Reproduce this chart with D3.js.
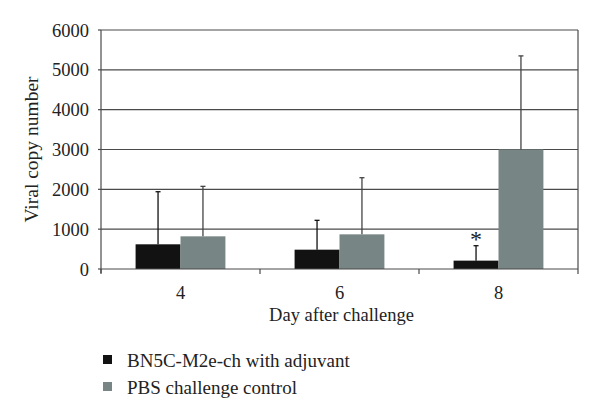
<!DOCTYPE html>
<html><head><meta charset="utf-8">
<script src="https://cdn.jsdelivr.net/npm/d3@7"></script>
<style>body{margin:0;background:#fff}svg{display:block}text{font-family:"Liberation Serif","DejaVu Serif",serif;fill:#222}</style>
</head><body>
<script>
const days = ["4", "6", "8"];
const seriesNames = ["BN5C-M2e-ch with adjuvant", "PBS challenge control"];
const adjuvantMean = [620, 485, 210];
const adjuvantErr = [1320, 737, 375];
const pbsMean = [820, 870, 3000];
const pbsErr = [1255, 1422, 2350];
const yTicks = [0, 1000, 2000, 3000, 4000, 5000, 6000];
const colors = ["#121212", "#788585"];
const significant = [false, false, true];

const W = 600, H = 417;
const m = {left: 101, right: 22, top: 30, bottom: 148};
const svg = d3.select("body").append("svg").attr("width", W).attr("height", H);
const x = d3.scaleBand().domain(days).range([m.left, W - m.right]).paddingInner(0).paddingOuter(0);
const xs = d3.scaleBand().domain([0, 1]).range([0, x.bandwidth()]).paddingInner(0).paddingOuter(0.77);
const y = d3.scaleLinear().domain([0, 6000]).range([H - m.bottom, m.top]);

// gridlines
svg.append("g").selectAll("line").data(yTicks.slice(1)).join("line")
  .attr("x1", m.left).attr("x2", W - m.right)
  .attr("y1", d => y(d)).attr("y2", d => y(d))
  .attr("stroke", "#4a4a4a").attr("stroke-width", 1.2);
// right border
svg.append("line").attr("x1", W - m.right).attr("x2", W - m.right)
  .attr("y1", y(6000)).attr("y2", y(0)).attr("stroke", "#4a4a4a").attr("stroke-width", 1.2);

const data = days.map((d, i) => [
  {day: d, s: 0, v: adjuvantMean[i], e: adjuvantErr[i]},
  {day: d, s: 1, v: pbsMean[i], e: pbsErr[i]}
]).flat();

svg.append("g").selectAll("rect").data(data).join("rect")
  .attr("x", d => x(d.day) + xs(d.s)).attr("width", xs.bandwidth())
  .attr("y", d => y(d.v)).attr("height", d => y(0) - y(d.v))
  .attr("fill", d => colors[d.s]);

const eb = svg.append("g").attr("stroke-width", 1.3);
data.forEach(d => {
  const cx = x(d.day) + xs(d.s) + xs.bandwidth() / 2;
  const col = d.s === 0 ? "#111" : "#444";
  eb.append("line").attr("x1", cx).attr("x2", cx).attr("y1", y(d.v)).attr("y2", y(d.v + d.e)).attr("stroke", col);
  eb.append("line").attr("x1", cx - 2.5).attr("x2", cx + 2.5).attr("y1", y(d.v + d.e)).attr("y2", y(d.v + d.e)).attr("stroke", col);
  if (d.s === 0 && significant[days.indexOf(d.day)]) {
    svg.append("text").attr("x", cx).attr("y", y(d.v + d.e) + 1.5).attr("text-anchor", "middle")
      .style("font-size", "24px").text("*");
  }
});

// x axis
const xAxis = svg.append("g").attr("transform", `translate(0,${y(0)})`);
xAxis.append("line").attr("x1", m.left).attr("x2", W - m.right).attr("stroke", "#4a4a4a").attr("stroke-width", 1.2);
const bounds = days.map(d => x(d)).concat([x(days[days.length - 1]) + x.bandwidth()]);
xAxis.selectAll("line.t").data(bounds).join("line").attr("class", "t")
  .attr("x1", d => d).attr("x2", d => d).attr("y1", 0).attr("y2", 5).attr("stroke", "#4a4a4a").attr("stroke-width", 1.2);
xAxis.selectAll("text").data(days).join("text")
  .attr("x", d => x(d) + x.bandwidth() / 2).attr("y", 30).attr("text-anchor", "middle")
  .style("font-size", "18.5px").text(d => d);

// y axis
const yAxis = svg.append("g");
yAxis.append("line").attr("x1", m.left).attr("x2", m.left).attr("y1", y(6000)).attr("y2", y(0) + 4)
  .attr("stroke", "#4a4a4a").attr("stroke-width", 1.2);
yAxis.selectAll("line.t").data(yTicks).join("line").attr("class", "t")
  .attr("x1", m.left - 3).attr("x2", m.left).attr("y1", d => y(d)).attr("y2", d => y(d))
  .attr("stroke", "#4a4a4a").attr("stroke-width", 1.2);
yAxis.selectAll("text").data(yTicks).join("text")
  .attr("x", 89).attr("y", d => y(d) + 6.5).attr("text-anchor", "end")
  .style("font-size", "18.5px").text(d => d);

svg.append("text").attr("transform", `translate(38,${(y(0) + y(6000)) / 2}) rotate(-90)`)
  .attr("text-anchor", "middle").style("font-size", "19.5px").text("Viral copy number");
svg.append("text").attr("x", (m.left + W - m.right) / 2 + 2).attr("y", 321).attr("text-anchor", "middle")
  .style("font-size", "18.5px").text("Day after challenge");

// legend
const lg = svg.append("g");
seriesNames.forEach((n, i) => {
  lg.append("rect").attr("x", 103).attr("y", 355 + i * 27).attr("width", 9).attr("height", 9).attr("fill", colors[i]);
  lg.append("text").attr("x", 127).attr("y", 367 + i * 27).style("font-size", "19px").text(n);
});
</script>
</body></html>
